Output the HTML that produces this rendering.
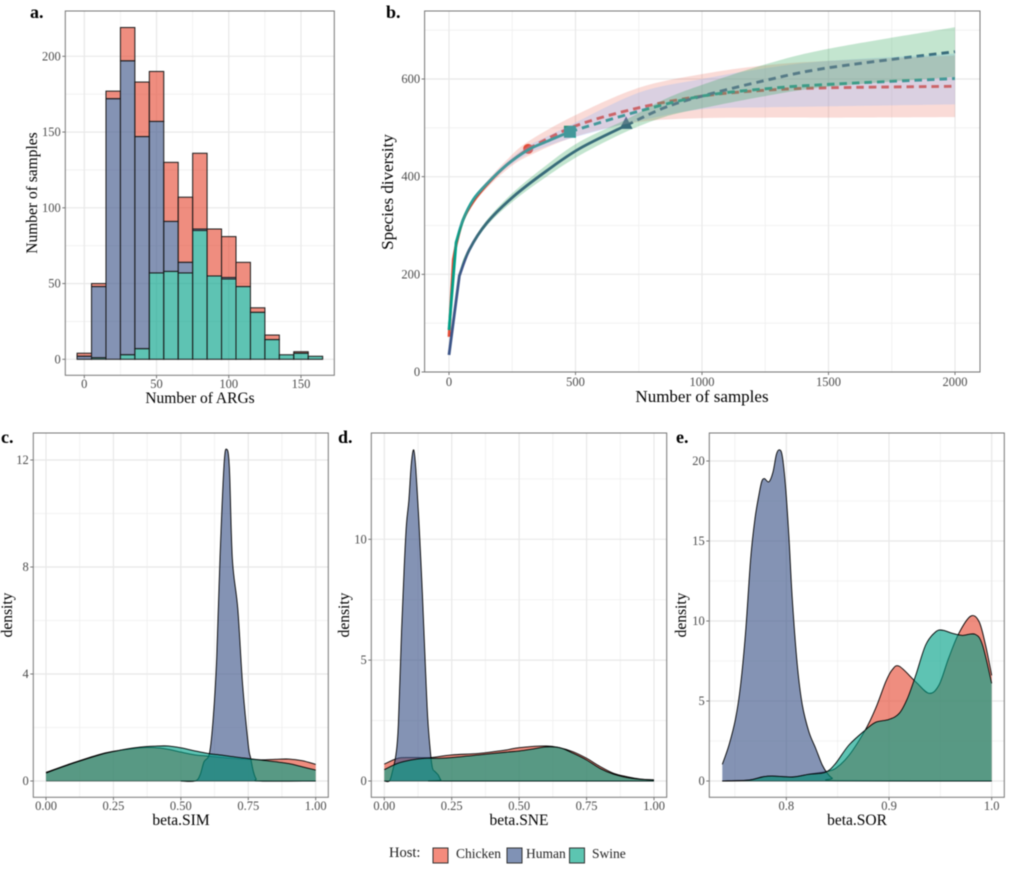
<!DOCTYPE html>
<html lang="en">
<head>
<meta charset="utf-8">
<title>ARG diversity panels</title>
<style>
html,body{margin:0;padding:0;background:#fff;width:1009px;height:869px;overflow:hidden}
svg{display:block;filter:blur(.45px)}
text{font-family:"Liberation Serif",serif}
.letter{font-size:18px;font-weight:bold;fill:#000}
.title{font-size:15.5px;fill:#000;text-anchor:middle}
.title-b{font-size:17px;fill:#000;text-anchor:middle}
.tick{font-size:12.5px;fill:#4D4D4D}
.legend-text{font-size:13.5px;fill:#222}
</style>
</head>
<body>
<svg id="figure" xmlns="http://www.w3.org/2000/svg" width="1009" height="869" viewBox="0 0 1009 869">
  <rect width="1009" height="869" fill="#fff"/>
  <g id="panel-a"></g>
  <g id="panel-b"></g>
  <g id="panel-c"></g>
  <g id="panel-d"></g>
  <g id="panel-e"></g>

  <text class="letter" x="30" y="18">a.</text>
  <text class="letter" x="386" y="18">b.</text>
  <text class="letter" x="1" y="443">c.</text>
  <text class="letter" x="338" y="443">d.</text>
  <text class="letter" x="676" y="443">e.</text>

  <text class="title" x="200" y="403">Number of ARGs</text>
  <text class="title" transform="translate(37,193) rotate(-90)">Number of samples</text>
  <text class="title-b" x="702" y="402">Number of samples</text>
  <text class="title-b" transform="translate(393,192) rotate(-90)">Species diversity</text>
  <text class="title" x="181" y="825">beta.SIM</text>
  <text class="title" transform="translate(12,615) rotate(-90)">density</text>
  <text class="title" x="519" y="825">beta.SNE</text>
  <text class="title" transform="translate(349,615) rotate(-90)">density</text>
  <text class="title" x="857" y="825">beta.SOR</text>
  <text class="title" transform="translate(686,615) rotate(-90)">density</text>

  <g>
    <text x="389" y="857" font-size="14.5" fill="#222">Host:</text>
    <rect x="433" y="848" width="15" height="15" fill="#F48B7C" stroke="#333" stroke-width="1"/>
    <text class="legend-text" x="456" y="858">Chicken</text>
    <rect x="507" y="848" width="15" height="15" fill="#8092B5" stroke="#333" stroke-width="1"/>
    <text class="legend-text" x="526" y="858">Human</text>
    <rect x="569.5" y="848" width="15" height="15" fill="#5CC5B1" stroke="#333" stroke-width="1"/>
    <text class="legend-text" x="592" y="858">Swine</text>
  </g>
</svg>

<script>
/* ---------- Panel a data ---------- */
const binCentres = [0,10,20,30,40,50,60,70,80,90,100,110,120,130,140,150,160];
const swineCounts = [0,1,0,3,7,57,58,57,85,55,53,48,31,13,3,4,2];
const humanCounts = [2,47,172,194,140,100,33,7,1,0,1,0,0,0,0,0,0];
const chickenCounts = [2,2,5,22,36,33,39,43,50,31,27,16,3,3,0,1,0];
const aXTicks = [0,50,100,150];
const aYTicks = [0,50,100,150,200];
const aXMinor = [25,75,125];
const aYMinor = [25,75,125,175];

/* ---------- Panel b data ---------- */
const chickenX = [0,17,30,56,96,149,228,313];
const chickenY = [72,230,264,312,349,383,424,457];
const chickenExtraX = [313,500,750,1000,1250,1500,2000];
const chickenExtraY = [457,504,541,565,577,582,585];
const swineX = [0,28,56,96,149,228,313,386,478];
const swineY = [86,265,312,353,385,424,455,472,492];
const swineExtraX = [478,750,1000,1250,1500,2000];
const swineExtraY = [492,534,565,580,589,601];
const humanX = [0,41,80,149,254,386,518,700];
const humanY = [35,197,250,305,359,412,458,505];
const humanExtraX = [700,850,1000,1250,1500,2000];
const humanExtraY = [505,541,565,597,623,656];
const chickenBandX = [0,17,30,56,96,149,228,313,500,750,1000,1250,1500,2000];
const chickenBandHi = [72,232,267,316,354,390,434,472,526,582,610,628,637,648];
const chickenBandLo = [72,228,261,308,344,376,414,442,482,512,520,521,521,522];
const swineBandX = [0,28,56,96,149,228,313,386,478,750,1000,1250,1500,2000];
const swineBandHi = [86,267,315,356,389,430,463,482,505,572,600,622,637,652];
const swineBandLo = [86,263,309,350,381,418,447,462,478,514,538,542,544,548];
const humanBandX = [0,41,80,149,254,386,518,700,850,1000,1250,1500,2000];
const humanBandHi = [36,200,254,311,368,424,472,517,558,588,630,662,706];
const humanBandLo = [36,194,246,299,350,400,444,492,522,540,565,584,604];
const bXTicks = [0,500,1000,1500,2000];
const bYTicks = [0,200,400,600];
const bXMinor = [250,750,1250,1750];
const bYMinor = [100,300,500,700];

/* ---------- Panel c data ---------- */
const simChickenX = [0,.1,.2,.25,.3,.35,.4,.45,.5,.55,.6,.65,.7,.75,.8,.85,.9,.95,1];
const simChickenY = [.32,.68,1,1.11,1.18,1.24,1.25,1.19,1.08,.98,.93,.88,.84,.81,.79,.81,.82,.76,.62];
const simSwineX = [0,.1,.2,.25,.3,.35,.4,.45,.5,.55,.6,.65,.7,.75,.8,.85,.9,.95,1];
const simSwineY = [.3,.66,.98,1.1,1.2,1.27,1.3,1.31,1.24,1.13,1.03,.97,.9,.84,.78,.72,.65,.53,.41];
const simHumanX = [.5,.553,.571,.586,.606,.62,.633,.645,.66,.67,.68,.691,.711,.729,.75,.759,.769,.779,.794,1];
const simHumanY = [0,0,.22,.72,1.03,2.34,4.6,8.3,11.8,12.4,11.7,8.3,6.45,3.6,1.35,.85,.35,.08,0,0];
const cXTicks = [0,.25,.5,.75,1];
const cXLabels = ['0.00','0.25','0.50','0.75','1.00'];
const cYTicks = [0,4,8,12];
const cXMinor = [.125,.375,.625,.875];
const cYMinor = [2,6,10];

/* ---------- Panel d data ---------- */
const sneChickenX = [0,.05,.1,.17,.25,.35,.45,.5,.6,.65,.7,.75,.8,.85,.9,.95,1];
const sneChickenY = [.7,.94,.97,.97,1.08,1.14,1.28,1.38,1.45,1.38,1.21,.94,.6,.32,.18,.08,.05];
const sneSwineX = [0,.05,.1,.15,.2,.25,.35,.45,.5,.55,.6,.65,.7,.75,.8,.85,.9,.95,1];
const sneSwineY = [.47,.73,.87,.94,.94,.97,1.08,1.19,1.24,1.32,1.41,1.38,1.15,.87,.52,.28,.14,.07,.04];
const sneHumanX = [0,.019,.03,.043,.052,.064,.074,.082,.091,.1,.109,.117,.129,.141,.151,.161,.172,.179,.188,.2,.21,.225,1];
const sneHumanY = [0,0,.39,1.08,2.3,6.2,8.9,10.6,11.6,13.1,13.7,12.9,10.6,7.8,5.1,2.6,1.08,.52,.39,.25,.04,0,0];
const dXTicks = [0,.25,.5,.75,1];
const dXLabels = ['0.00','0.25','0.50','0.75','1.00'];
const dYTicks = [0,5,10];
const dXMinor = [.125,.375,.625,.875];
const dYMinor = [2.5,7.5,12.5];

/* ---------- Panel e data ---------- */
const sorChickenX = [.7377,.7636,.7766,.786,.806,.822,.838,.848,.861,.877,.887,.8968,.903,.91,.926,.939,.9487,.958,.968,.9795,.9877,.994,1];
const sorChickenY = [0,.06,.25,.31,.25,.42,.58,.79,1.6,3.2,4.54,6.2,6.94,7.17,6.2,5.48,6,7.67,9.23,10.3,9.96,8.5,6.6];
const sorSwineX = [.7377,.7636,.7766,.786,.806,.822,.838,.848,.861,.877,.887,.9,.91,.918,.926,.9357,.9455,.9526,.9617,.9714,.9838,.991,1];
const sorSwineY = [0,.06,.25,.31,.25,.42,.54,1.1,2.25,3.19,3.67,3.85,4.23,5.17,6.6,8.5,9.33,9.42,9.23,9.1,9.17,8.5,6.1];
const sorHumanX = [.7377,.7442,.7506,.7555,.7604,.7653,.7695,.7734,.776,.7786,.7831,.787,.7903,.7932,.7961,.7994,.8026,.8058,.8107,.8156,.822,.8286,.835,.84,.8448,.851,1];
const sorHumanY = [1.04,2.25,3.9,6,9.33,13.9,16.4,17.9,18.7,18.9,18.7,19.3,20.4,20.7,20.3,18.3,15.2,11.4,7.25,4.75,3.08,2.04,1,.48,.17,.02,0];
const eXTicks = [.8,.9,1];
const eXLabels = ['0.8','0.9','1.0'];
const eYTicks = [0,5,10,15,20];
const eXMinor = [.75,.85,.95];
const eYMinor = [2.5,7.5,12.5,17.5];

/* ---------- helpers ---------- */
const NS = 'http://www.w3.org/2000/svg';
const RED = '#E64B35', BLUE = '#3C5488', TEAL = '#00A087';
const FILL_ALPHA = .63;

function make(parent, tag, attrs) {
  const el = document.createElementNS(NS, tag);
  for (const k in attrs) el.setAttribute(k, attrs[k]);
  parent.appendChild(el);
  return el;
}
function linear(d0, d1, r0, r1) {
  return v => r0 + (v - d0) * (r1 - r0) / (d1 - d0);
}
function curve(pts, start) {
  let d = start + pts[0][0].toFixed(2) + ' ' + pts[0][1].toFixed(2);
  for (let i = 0; i < pts.length - 1; i++) {
    const p0 = pts[Math.max(i - 1, 0)], p1 = pts[i], p2 = pts[i + 1], p3 = pts[Math.min(i + 2, pts.length - 1)];
    const k = 1 / 6;
    const c1x = p1[0] + (p2[0] - p0[0]) * k, c1y = p1[1] + (p2[1] - p0[1]) * k;
    const c2x = p2[0] - (p3[0] - p1[0]) * k, c2y = p2[1] - (p3[1] - p1[1]) * k;
    d += ' C' + c1x.toFixed(2) + ' ' + c1y.toFixed(2) + ' ' + c2x.toFixed(2) + ' ' + c2y.toFixed(2) + ' ' + p2[0].toFixed(2) + ' ' + p2[1].toFixed(2);
  }
  return d;
}
function toPts(xs, ys, sx, sy) {
  return xs.map((v, i) => [sx(v), sy(ys[i])]);
}
function frame(g, key, box, sx, sy, xTicks, xLabels, yTicks, xMinor, yMinor, tickY) {
  const bg = make(g, 'rect', {x: box.l, y: box.t, width: box.r - box.l, height: box.b - box.t, fill: '#fff'});
  
  
  xMinor.forEach(v => {
    const l = make(g, 'line', {x1: sx(v), x2: sx(v), y1: box.t, y2: box.b, stroke: '#EFEFEF', 'stroke-width': .8});
    
    
  });
  yMinor.forEach(v => {
    const l = make(g, 'line', {x1: box.l, x2: box.r, y1: sy(v), y2: sy(v), stroke: '#EFEFEF', 'stroke-width': .8});
    
    
  });
  xTicks.forEach(v => {
    const l = make(g, 'line', {x1: sx(v), x2: sx(v), y1: box.t, y2: box.b, stroke: '#E8E8E8', 'stroke-width': 1.2});
    
    
  });
  yTicks.forEach(v => {
    const l = make(g, 'line', {x1: box.l, x2: box.r, y1: sy(v), y2: sy(v), stroke: '#E8E8E8', 'stroke-width': 1.2});
    
    
  });
  xTicks.forEach((v, i) => {
    const m = make(g, 'line', {x1: sx(v), x2: sx(v), y1: box.b, y2: box.b + 3, stroke: '#555', 'stroke-width': .8});
    
    
    const t = make(g, 'text', {x: sx(v), y: tickY, 'text-anchor': 'middle', class: 'tick'});
    
    
    t.textContent = xLabels ? xLabels[i] : String(v);
  });
  yTicks.forEach(v => {
    const m = make(g, 'line', {x1: box.l - 3, x2: box.l, y1: sy(v), y2: sy(v), stroke: '#555', 'stroke-width': .8});
    
    
    const t = make(g, 'text', {x: box.l - 4.5, y: sy(v) + 4, 'text-anchor': 'end', class: 'tick'});
    
    
    t.textContent = String(v);
  });
}
function border(g, key, box) {
  const b = make(g, 'rect', {x: box.l, y: box.t, width: box.r - box.l, height: box.b - box.t, fill: 'none', stroke: '#777', 'stroke-width': 1});
  
  
}

/* ---------- panel a ---------- */
(function () {
  const g = document.getElementById('panel-a');
  const box = {l: 65.3, r: 334.3, t: 11, b: 375.3};
  const sx = linear(0, 150, 84.3, 301);
  const sy = linear(0, 200, 359.3, 56.3);
  frame(g, 'a', box, sx, sy, aXTicks, null, aYTicks, aXMinor, aYMinor, 388);
  binCentres.forEach((c, i) => {
    const s = swineCounts[i], h = humanCounts[i], k = chickenCounts[i];
    const x0 = sx(c - 5), x1 = sx(c + 5);
    if (k > 0) {
      const r = make(g, 'rect', {x: x0, y: sy(s + h + k), width: x1 - x0, height: sy(s + h) - sy(s + h + k), fill: RED, 'fill-opacity': FILL_ALPHA, stroke: '#1a1a1a', 'stroke-width': 1});
      
      
    }
    if (h > 0) {
      const r = make(g, 'rect', {x: x0, y: sy(s + h), width: x1 - x0, height: sy(s) - sy(s + h), fill: BLUE, 'fill-opacity': FILL_ALPHA, stroke: '#1a1a1a', 'stroke-width': 1});
      
      
    }
    if (s > 0) {
      const r = make(g, 'rect', {x: x0, y: sy(s), width: x1 - x0, height: sy(0) - sy(s), fill: TEAL, 'fill-opacity': FILL_ALPHA, stroke: '#1a1a1a', 'stroke-width': 1});
      
      
    }
  });
  border(g, 'a', box);
})();

/* ---------- panel b ---------- */
(function () {
  const g = document.getElementById('panel-b');
  const box = {l: 424.6, r: 980, t: 11, b: 372};
  const sx = linear(0, 2000, 449, 955);
  const sy = linear(0, 600, 372, 79);
  frame(g, 'b', box, sx, sy, bXTicks, null, bYTicks, bXMinor, bYMinor, 386);

  function solid(xs, ys, color, name) {
    const pts = toPts(xs, ys, sx, sy);
    const d = 'M' + pts[0][0] + ' ' + pts[0][1] + curve(pts.slice(1), ' L');
    const p = make(g, 'path', {d: d, fill: 'none', stroke: color, 'stroke-width': 2.8});
    
    
  }
  function dashed(xs, ys, color, name) {
    const p = make(g, 'path', {d: curve(toPts(xs, ys, sx, sy), 'M'), fill: 'none', stroke: color, 'stroke-width': 2.9, 'stroke-dasharray': '7.5 5'});
    
    
  }
  function band(xs, hi, lo, color, op, name) {
    const up = toPts(xs, hi, sx, sy);
    const dn = toPts(xs, lo, sx, sy).reverse();
    const p = make(g, 'path', {d: curve(up, 'M') + ' ' + curve(dn, 'L') + ' Z', fill: color, 'fill-opacity': op, stroke: 'none'});
    
    
  }

  dashed(chickenExtraX, chickenExtraY, RED, 'line-chicken-extrapolated');
  solid(chickenX, chickenY, RED, 'line-chicken-rarefied');
  const cx = chickenX[chickenX.length - 1], cy = chickenY[chickenY.length - 1];
  const circle = make(g, 'circle', {cx: sx(cx), cy: sy(cy), r: 5, fill: RED});
  
  

  dashed(humanExtraX, humanExtraY, BLUE, 'line-human-extrapolated');
  solid(humanX, humanY, BLUE, 'line-human-rarefied');
  const hx = sx(humanX[humanX.length - 1]), hy = sy(humanY[humanY.length - 1]);
  const tri = make(g, 'polygon', {points: (hx - 6.5) + ',' + (hy + 3.5) + ' ' + (hx + 6.5) + ',' + (hy + 3.5) + ' ' + hx + ',' + (hy - 9), fill: BLUE});
  
  

  dashed(swineExtraX, swineExtraY, TEAL, 'line-swine-extrapolated');
  solid(swineX, swineY, TEAL, 'line-swine-rarefied');
  const qx = sx(swineX[swineX.length - 1]), qy = sy(swineY[swineY.length - 1]);
  const sq = make(g, 'rect', {x: qx - 6, y: qy - 6, width: 12, height: 12, fill: TEAL});
  
  

  band(chickenBandX, chickenBandHi, chickenBandLo, RED, .2, 'ribbon-chicken');
  band(swineBandX, swineBandHi, swineBandLo, '#80B0FF', .26, 'ribbon-swine');
  band(humanBandX, humanBandHi, humanBandLo, '#2FA65A', .29, 'ribbon-human');
  border(g, 'b', box);
})();

/* ---------- density panels ---------- */
function densityLayer(g, key, host, xs, ys, color, sx, sy) {
  const pts = toPts(xs, ys, sx, sy);
  const last = pts[pts.length - 1], first = pts[0];
  const base = sy(0);
  const top = curve(pts, 'M');
  const area = make(g, 'path', {d: top + ' L' + last[0] + ' ' + base + ' L' + first[0] + ' ' + base + ' Z', fill: color, 'fill-opacity': FILL_ALPHA, stroke: 'none'});
  
  
  const line = make(g, 'path', {d: top, fill: 'none', stroke: '#000', 'stroke-width': .9});
  
  
  const bl = make(g, 'line', {x1: first[0], x2: last[0], y1: base, y2: base, stroke: '#000', 'stroke-width': .6, 'stroke-opacity': .55});
  
  
}

(function () {
  const g = document.getElementById('panel-c');
  const box = {l: 33.3, r: 328.3, t: 433, b: 797.3};
  const sx = linear(0, 1, 46, 315.7);
  const sy = linear(0, 12, 781, 460);
  frame(g, 'c', box, sx, sy, cXTicks, cXLabels, cYTicks, cXMinor, cYMinor, 810);
  densityLayer(g, 'c', 'chicken', simChickenX, simChickenY, RED, sx, sy);
  densityLayer(g, 'c', 'human', simHumanX, simHumanY, BLUE, sx, sy);
  densityLayer(g, 'c', 'swine', simSwineX, simSwineY, TEAL, sx, sy);
  border(g, 'c', box);
})();

(function () {
  const g = document.getElementById('panel-d');
  const box = {l: 371.3, r: 666.7, t: 433, b: 797.3};
  const sx = linear(0, 1, 384.3, 654);
  const sy = linear(0, 10, 781, 539.3);
  frame(g, 'd', box, sx, sy, dXTicks, dXLabels, dYTicks, dXMinor, dYMinor, 810);
  densityLayer(g, 'd', 'chicken', sneChickenX, sneChickenY, RED, sx, sy);
  densityLayer(g, 'd', 'human', sneHumanX, sneHumanY, BLUE, sx, sy);
  densityLayer(g, 'd', 'swine', sneSwineX, sneSwineY, TEAL, sx, sy);
  border(g, 'd', box);
})();

(function () {
  const g = document.getElementById('panel-e');
  const box = {l: 709.3, r: 1004.3, t: 433, b: 797.3};
  const sx = linear(.8, 1, 786.3, 991.7);
  const sy = linear(0, 20, 781, 461);
  frame(g, 'e', box, sx, sy, eXTicks, eXLabels, eYTicks, eXMinor, eYMinor, 810);
  densityLayer(g, 'e', 'chicken', sorChickenX, sorChickenY, RED, sx, sy);
  densityLayer(g, 'e', 'human', sorHumanX, sorHumanY, BLUE, sx, sy);
  densityLayer(g, 'e', 'swine', sorSwineX, sorSwineY, TEAL, sx, sy);
  border(g, 'e', box);
})();
</script>
</body>
</html>
